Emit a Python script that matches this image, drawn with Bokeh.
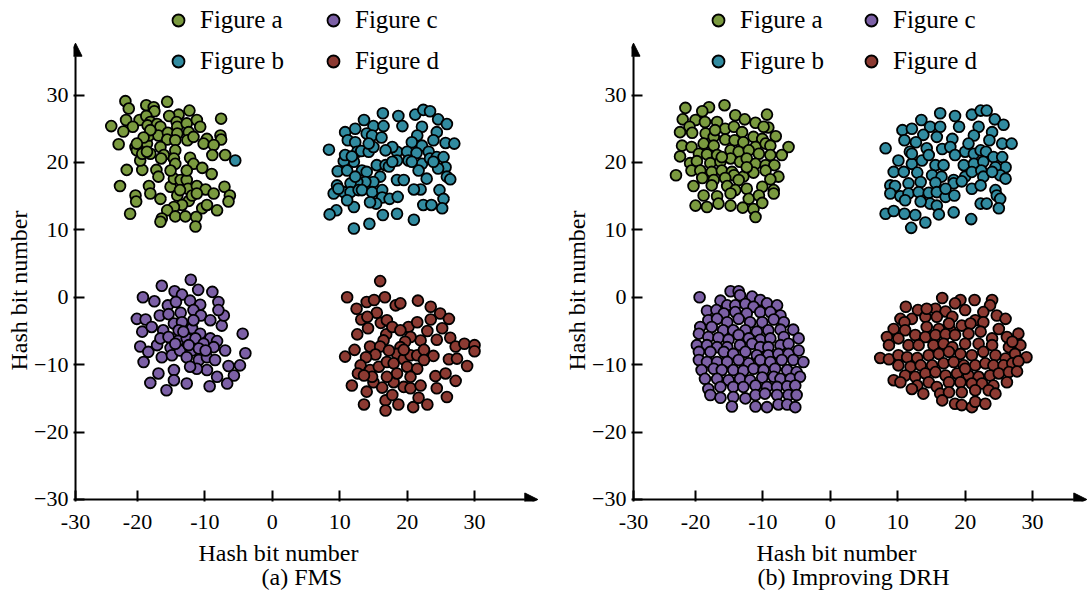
from bokeh.plotting import figure
from bokeh.models import (Legend, LegendItem, Arrow, NormalHead, FixedTicker,
                          CustomJSTickFormatter, Title)
from bokeh.layouts import row
from bokeh.embed import file_html
from bokeh.resources import INLINE

SERIES = ["Figure a", "Figure b", "Figure c", "Figure d"]
COLORS = ["#7a9a3f", "#318ba0", "#7c60a6", "#8c3a32"]
CAPTIONS = ["(a) FMS", "(b) Improving DRH"]
X_TICKS = [-30, -20, -10, 0, 10, 20, 30]
Y_TICKS = [-30, -20, -10, 0, 10, 20, 30]
AXIS_TITLE = "Hash bit number"

# ---------------- (a) FMS ----------------
fms_a = [(-21.8,29.1),(-21.3,28.0),(-18.7,28.5),(-17.6,28.2),(-17.5,27.6),(-15.6,29.0),(-12.3,27.7),(-13.9,27.1),(-15.3,26.9),(-7.6,26.5),
         (-23.9,25.4),(-21.7,26.3),(-19.7,26.3),(-18.7,26.9),(-18.1,26.0),(-18.5,25.5),(-17.1,25.7),(-16.6,25.3),(-20.7,25.3),(-22.1,24.6),
         (-14.2,26.0),(-14.1,25.3),(-12.7,25.8),(-11.2,26.3),(-10.7,25.3),(-12.4,24.5),(-9.7,23.5),(-7.7,24.0),(-7.6,23.4),(-22.8,22.7),
         (-20.3,22.3),(-20.1,21.8),(-18.6,22.8),(-18.3,24.0),(-16.9,24.0),(-18.1,24.8),(-15.5,24.4),(-15.6,23.4),(-14.1,24.3),(-14.4,23.3),
         (-12.6,23.3),(-11.7,23.8),(-10.2,22.8),(-8.7,22.6),(-8.9,21.1),(-7.0,21.1),(-21.6,18.9),(-19.3,18.9),(-19.6,20.3),(-19.3,21.3),
         (-18.1,21.3),(-16.6,22.3),(-16.1,21.1),(-16.5,20.6),(-14.4,21.8),(-14.6,20.6),(-14.4,19.8),(-12.2,20.7),(-11.7,19.8),(-10.4,19.2),
         (-9.0,18.3),(-17.2,18.9),(-16.9,17.9),(-22.6,16.5),(-20.3,15.1),(-20.2,14.2),(-21.1,12.4),(-18.3,16.5),(-18.1,15.4),(-16.6,14.6),
         (-15.1,16.4),(-14.6,17.6),(-13.6,17.4),(-12.7,17.4),(-12.5,16.1),(-11.2,16.5),(-9.9,16.0),(-8.7,15.4),(-7.1,16.4),(-6.3,15.1),
         (-6.5,14.2),(-8.2,12.9),(-10.4,13.2),(-9.7,13.7),(-14.1,15.1),(-12.4,14.3),(-13.4,13.7),(-14.6,13.4),(-15.6,12.9),(-16.4,11.7),
         (-16.6,11.2),(-14.4,12.0),(-12.9,12.0),(-11.3,11.9),(-11.4,10.5),(-15.1,18.8),(-12.7,18.8),(-13.7,15.9),(-11.9,15.1),(-11.2,15.4),
         (-19.1,23.7),(-20.1,22.8),(-18.6,21.6)]

fms_b = [(8.4,21.9),(9.5,12.9),(8.5,12.3),(12.1,10.2),(14.4,10.9),(16.4,12.2),(18.5,12.4),(21.0,11.5),(10.8,24.5),(12.3,25.0),
         (13.6,26.3),(15.0,25.4),(16.4,27.3),(16.5,25.4),(14.0,24.3),(14.8,24.0),(16.2,23.7),(18.7,26.9),(19.3,25.4),(21.2,27.1),
         (22.4,27.8),(23.4,27.6),(24.6,26.4),(25.9,25.7),(24.4,24.5),(23.9,23.3),(22.2,25.3),(21.5,24.0),(20.7,23.0),(22.2,22.5),
         (25.7,22.9),(27.0,22.8),(11.2,23.3),(12.3,23.0),(12.6,21.6),(13.2,21.7),(14.3,21.6),(12.1,20.1),(10.6,20.2),(9.7,18.7),
         (11.1,18.8),(13.3,18.8),(14.0,18.6),(15.5,19.6),(16.8,19.6),(17.3,19.4),(18.5,21.6),(17.8,22.3),(16.8,21.8),(20.0,21.6),
         (20.2,20.3),(21.4,21.4),(22.2,19.8),(23.2,21.6),(23.4,20.6),(24.4,20.8),(25.4,20.8),(25.7,19.3),(24.6,19.1),(25.9,17.9),
         (26.4,17.5),(22.9,17.6),(21.7,18.8),(18.5,17.4),(19.5,17.4),(16.0,17.9),(15.0,17.1),(13.8,17.1),(12.6,17.1),(11.6,16.9),
         (9.6,16.6),(9.1,15.4),(10.6,15.6),(11.6,15.6),(12.8,15.9),(13.3,15.9),(14.8,15.6),(16.3,15.9),(16.3,14.8),(17.4,14.6),
         (18.6,14.9),(15.4,13.9),(14.5,14.1),(12.1,13.4),(11.1,14.4),(9.8,16.1),(10.8,21.1),(11.8,20.9),(22.0,16.0),(21.0,16.0),
         (24.8,15.9),(25.4,14.6),(25.2,13.2),(22.4,13.7),(23.6,13.7),(15.0,22.3),(14.3,22.8),(12.3,17.9),(23.9,20.1),(20.7,20.1),
         (18.5,20.3),(17.8,20.1),(-5.5,20.3)]

fms_c = [(-12.1,2.6),(-16.4,1.7),(-11.0,1.1),(-8.9,0.8),(-14.5,0.9),(-13.4,0.4),(-19.2,0.0),(-17.5,-0.6),(-15.5,-1.2),(-14.3,-0.7),
         (-12.2,-0.5),(-10.7,-1.1),(-8.0,-0.7),(-20.1,-3.2),(-18.8,-3.3),(-16.7,-2.7),(-15.4,-2.5),(-13.6,-2.3),(-11.7,-1.9),(-10.6,-2.7),
         (-9.2,-3.4),(-7.5,-4.2),(-7.2,-2.7),(-19.3,-5.1),(-17.9,-4.4),(-16.2,-4.9),(-14.6,-3.9),(-13.4,-3.7),(-11.9,-4.6),(-10.7,-5.4),
         (-9.2,-6.1),(-8.2,-6.5),(-7.0,-7.9),(-4.4,-5.4),(-4.0,-8.3),(-19.6,-7.3),(-18.4,-8.1),(-17.1,-7.1),(-16.6,-6.1),(-15.1,-7.5),
         (-13.9,-6.4),(-12.7,-6.1),(-11.4,-6.1),(-10.2,-6.9),(-8.7,-7.4),(-19.1,-9.6),(-16.4,-8.9),(-14.9,-8.6),(-13.7,-7.9),(-11.9,-7.9),
         (-12.7,-8.9),(-10.9,-9.3),(-9.7,-8.9),(-8.5,-9.3),(-6.5,-10.2),(-4.8,-10.1),(-5.7,-11.6),(-6.7,-12.8),(-8.2,-11.8),(-9.7,-10.8),
         (-11.2,-10.6),(-12.2,-10.3),(-14.6,-10.8),(-16.9,-11.3),(-18.1,-12.7),(-15.7,-13.8),(-14.6,-12.3),(-12.7,-12.8),(-9.3,-13.2),(-13.9,-4.9),
         (-15.4,-5.9),(-11.7,-3.4),(-8.0,-1.9),(-13.2,-5.1),(-12.4,-7.1),(-10.9,-7.6),(-14.4,-6.9),(-9.9,-7.9)]

fms_d = [(16.0,2.4),(11.1,0.0),(14.0,-0.7),(15.1,-0.4),(16.7,0.0),(18.3,-1.2),(19.0,-0.9),(21.6,-0.5),(12.5,-1.7),(15.5,-2.3),
         (23.5,-1.4),(24.9,-2.4),(26.2,-3.2),(13.2,-3.3),(14.1,-2.9),(16.1,-3.8),(17.0,-3.4),(14.2,-4.6),(12.6,-5.5),(16.9,-5.5),
         (16.5,-6.4),(17.8,-4.4),(20.2,-4.4),(21.5,-3.7),(23.0,-5.0),(23.5,-3.3),(25.2,-4.6),(26.4,-6.0),(24.4,-6.3),(22.0,-6.4),
         (20.5,-5.9),(19.7,-6.6),(19.0,-7.4),(18.5,-8.4),(27.2,-7.3),(28.5,-6.9),(30.0,-7.1),(30.0,-8.0),(12.2,-7.8),(10.8,-8.8),
         (14.5,-7.3),(16.0,-7.3),(15.3,-8.5),(13.9,-8.9),(13.1,-10.1),(12.7,-11.3),(14.5,-10.8),(15.8,-10.3),(17.0,-9.6),(18.0,-9.8),
         (19.5,-9.2),(20.5,-8.6),(21.5,-8.6),(22.5,-7.8),(23.9,-8.7),(26.2,-9.2),(27.4,-9.1),(28.9,-10.2),(24.2,-11.7),(25.7,-11.3),
         (27.2,-12.4),(11.8,-13.1),(14.0,-14.0),(15.0,-12.6),(16.3,-13.4),(18.0,-12.6),(19.5,-13.3),(20.5,-13.5),(22.0,-13.1),(24.4,-13.5),
         (25.9,-14.8),(13.6,-15.9),(16.8,-15.3),(16.8,-16.8),(18.7,-15.9),(20.9,-16.3),(21.7,-14.9),(23.0,-15.9),(17.8,-14.5),(20.0,-10.3),
         (21.5,-10.6),(18.5,-11.3),(17.0,-11.8),(14.8,-11.8),(13.6,-11.6),(19.0,-4.9),(19.5,-7.8),(17.3,-7.9),(20.5,-11.8),(22.5,-9.3)]

# ---------------- (b) Improving DRH ----------------
drh_a = [(-21.5,28.1),(-18.0,28.2),(-15.7,28.5),(-19.0,27.6),(-9.4,27.1),(-21.9,26.4),(-20.0,26.3),(-18.6,26.0),(-16.8,26.0),(-14.1,27.0),
         (-12.7,26.4),(-11.1,25.9),(-9.2,25.2),(-20.9,25.3),(-22.3,24.5),(-20.5,24.4),(-18.5,24.3),(-17.3,23.8),(-15.6,25.0),(-14.3,25.3),
         (-13.1,24.5),(-11.4,23.8),(-10.1,23.5),(-8.1,23.9),(-22.0,22.5),(-20.6,22.3),(-18.8,22.8),(-17.3,22.5),(-15.6,23.4),(-14.2,23.3),
         (-12.9,23.0),(-11.1,22.3),(-9.6,22.8),(-8.9,22.5),(-6.2,22.3),(-22.3,20.9),(-19.5,21.3),(-18.3,21.2),(-16.8,21.1),(-14.8,21.8),
         (-13.6,21.6),(-12.1,21.8),(-10.6,21.3),(-8.9,21.1),(-7.2,21.1),(-20.8,19.9),(-19.8,20.2),(-17.8,19.9),(-16.3,20.1),(-14.8,20.6),
         (-13.4,20.1),(-12.4,20.6),(-11.1,19.8),(-9.6,19.6),(-8.3,19.6),(-22.9,18.1),(-20.6,18.8),(-19.3,18.8),(-17.6,18.6),(-16.1,18.8),
         (-14.6,18.6),(-14.3,18.1),(-12.9,17.9),(-11.4,18.5),(-9.6,18.8),(-7.7,17.9),(-8.9,17.5),(-19.0,17.7),(-17.3,17.4),(-15.6,17.7),
         (-13.6,17.4),(-20.3,16.5),(-17.6,16.6),(-15.3,16.5),(-14.1,15.9),(-12.4,16.1),(-10.1,16.4),(-8.4,15.9),(-18.8,15.1),(-16.8,15.0),
         (-14.8,15.4),(-12.1,14.6),(-10.6,15.1),(-20.0,13.6),(-18.3,13.4),(-16.6,13.9),(-14.8,13.6),(-13.0,13.3),(-11.4,13.1),(-10.1,14.0),
         (-11.1,11.9),(-9.9,25.3),(-16.1,20.8),(-12.4,19.3),(-17.1,24.8),(-8.4,15.4)]

drh_b = [(8.2,22.1),(16.3,27.3),(18.5,26.9),(21.0,27.1),(22.3,27.7),(23.2,27.7),(24.4,26.4),(25.7,25.6),(13.5,26.3),(10.7,24.8),
         (12.1,25.0),(14.8,25.3),(16.3,25.3),(19.1,25.3),(13.8,24.1),(15.8,23.8),(18.1,23.5),(22.0,25.3),(21.3,24.0),(24.0,24.5),
         (23.6,23.3),(11.0,23.3),(12.7,23.0),(14.3,22.1),(16.6,22.0),(17.8,22.3),(20.0,21.6),(21.3,21.3),(22.3,21.8),(23.1,21.6),
         (25.5,22.8),(26.9,22.8),(11.8,21.6),(10.1,20.3),(12.1,19.8),(13.6,20.3),(15.6,19.6),(16.8,19.6),(18.5,21.1),(19.8,19.6),
         (21.3,19.8),(22.7,20.1),(24.2,20.8),(25.5,20.8),(26.0,19.3),(24.5,19.3),(9.4,18.6),(10.9,18.6),(12.9,18.5),(15.1,18.1),
         (16.5,17.9),(18.3,17.4),(20.0,17.9),(21.0,18.6),(22.4,18.8),(22.7,17.9),(25.2,18.1),(26.0,17.6),(8.9,16.6),(9.6,16.5),
         (11.6,16.9),(13.4,17.1),(15.6,17.0),(18.3,16.9),(19.5,17.2),(21.0,16.1),(22.3,16.6),(24.5,15.9),(8.9,15.4),(10.4,15.0),
         (11.6,15.4),(13.1,15.6),(14.6,15.5),(15.8,15.6),(17.1,14.9),(18.4,15.1),(24.7,15.1),(25.2,14.6),(11.1,14.4),(14.8,13.9),
         (15.8,13.6),(22.3,13.9),(23.2,13.9),(25.0,13.2),(8.2,12.4),(9.4,12.8),(11.0,12.4),(12.6,12.2),(14.1,11.1),(16.1,12.3),
         (18.3,12.6),(20.9,11.6),(12.0,10.3),(12.1,21.3),(14.6,21.1),(20.5,22.8),(17.1,16.1),(24.0,18.6),(13.4,14.2)]

drh_c = [(-19.4,0.0),(-14.8,0.9),(-13.6,0.9),(-13.4,0.3),(-11.6,0.1),(-10.4,-0.4),(-9.4,-0.9),(-7.9,-1.2),(-16.3,-0.5),(-15.3,-1.2),
         (-14.1,-1.2),(-12.6,-1.0),(-11.4,-1.4),(-18.3,-2.0),(-16.9,-1.9),(-15.8,-2.4),(-14.1,-2.2),(-12.4,-2.4),(-10.4,-2.2),(-8.9,-2.2),
         (-7.4,-2.7),(-18.1,-3.4),(-16.8,-3.2),(-15.3,-3.7),(-13.6,-3.2),(-11.9,-3.7),(-10.1,-3.7),(-8.4,-3.3),(-6.9,-3.7),(-19.3,-4.4),
         (-17.6,-4.4),(-15.9,-4.9),(-14.4,-4.9),(-12.6,-4.9),(-10.9,-5.1),(-9.2,-4.9),(-7.4,-4.8),(-5.5,-4.8),(-19.5,-5.4),(-18.1,-5.9),
         (-16.6,-6.0),(-15.1,-6.3),(-13.6,-5.6),(-12.1,-6.1),(-10.4,-6.3),(-8.9,-6.1),(-6.9,-5.9),(-4.7,-6.1),(-19.8,-7.1),(-18.3,-7.1),
         (-16.8,-7.4),(-15.3,-7.4),(-13.4,-7.1),(-11.6,-6.9),(-10.4,-7.4),(-9.2,-7.4),(-7.4,-7.1),(-6.2,-6.9),(-19.5,-8.1),(-17.8,-8.1),
         (-15.8,-8.1),(-14.4,-8.4),(-12.6,-8.1),(-10.9,-8.6),(-9.2,-8.6),(-7.7,-8.4),(-6.2,-8.4),(-4.7,-7.9),(-19.5,-9.3),(-18.3,-9.6),
         (-16.8,-9.6),(-15.3,-9.6),(-13.6,-9.3),(-12.1,-9.8),(-10.4,-9.3),(-8.9,-9.6),(-7.2,-9.3),(-5.5,-9.3),(-4.0,-9.6),(-19.1,-10.8),
         (-17.3,-10.6),(-16.1,-10.8),(-14.4,-10.8),(-12.9,-10.9),(-11.4,-10.6),(-9.9,-10.8),(-8.2,-10.6),(-6.4,-10.8),(-5.0,-11.1),(-18.6,-12.1),
         (-16.8,-12.1),(-15.1,-12.3),(-13.4,-12.1),(-11.9,-12.3),(-10.1,-11.9),(-8.4,-11.8),(-7.4,-12.1),(-5.9,-12.1),(-4.5,-11.8),(-18.1,-13.6),
         (-16.3,-13.3),(-14.4,-13.3),(-12.9,-13.3),(-11.1,-13.1),(-9.4,-13.3),(-7.9,-13.3),(-6.4,-13.2),(-5.2,-13.1),(-17.8,-14.5),(-16.3,-14.9),
         (-14.4,-14.8),(-12.6,-15.0),(-11.1,-14.5),(-9.7,-14.3),(-7.9,-14.5),(-6.2,-14.5),(-5.0,-14.5),(-14.6,-16.2),(-11.1,-16.2),(-9.4,-16.3),
         (-7.7,-15.9),(-6.4,-15.9),(-5.2,-16.3)]

drh_d = [(16.6,-0.1),(19.3,-0.4),(18.5,-0.9),(21.4,-0.4),(24.0,-0.4),(23.7,-1.2),(11.2,-1.4),(13.0,-1.9),(15.6,-1.7),(17.1,-2.1),
         (20.0,-1.9),(22.7,-2.2),(24.7,-2.7),(26.0,-3.2),(10.4,-3.2),(12.1,-3.2),(14.1,-2.9),(15.8,-2.9),(18.1,-2.9),(21.5,-3.4),
         (11.0,-3.7),(9.4,-4.7),(11.1,-4.9),(12.6,-5.6),(14.3,-4.4),(16.1,-4.7),(17.8,-4.9),(19.5,-4.2),(20.8,-3.9),(22.7,-3.7),
         (25.0,-4.7),(27.9,-5.4),(8.4,-5.9),(10.1,-6.1),(14.1,-5.9),(15.6,-5.6),(17.1,-5.5),(18.5,-5.6),(20.5,-5.4),(22.3,-5.1),
         (24.0,-6.1),(26.2,-5.9),(8.7,-7.1),(11.6,-7.1),(13.1,-7.1),(15.3,-7.1),(16.8,-6.9),(18.1,-7.4),(20.0,-6.9),(22.0,-6.9),
         (24.0,-7.1),(26.5,-7.4),(28.2,-7.1),(7.4,-9.0),(8.7,-9.2),(10.1,-8.6),(11.4,-8.9),(12.9,-9.0),(14.6,-8.6),(16.1,-8.4),
         (17.6,-8.1),(19.3,-8.4),(21.0,-8.6),(22.7,-8.1),(24.5,-8.6),(26.0,-9.1),(27.4,-8.4),(29.1,-8.9),(10.1,-10.1),(11.9,-10.3),
         (13.4,-10.1),(15.1,-10.1),(16.8,-9.8),(18.3,-9.6),(19.8,-10.1),(21.5,-10.1),(23.0,-9.8),(24.2,-10.1),(25.7,-10.1),(27.0,-9.8),
         (27.9,-9.5),(9.4,-12.3),(11.1,-11.6),(12.6,-11.8),(14.1,-11.3),(15.6,-11.1),(17.1,-11.6),(18.8,-11.3),(20.5,-11.6),(22.0,-11.8),
         (23.7,-11.6),(25.0,-11.3),(26.5,-11.1),(27.7,-11.0),(10.4,-12.6),(12.9,-13.1),(14.6,-12.6),(15.8,-13.3),(17.6,-12.6),(19.3,-12.6),
         (21.0,-12.8),(22.5,-12.8),(24.2,-13.1),(26.2,-12.6),(13.8,-14.3),(16.3,-14.3),(17.6,-14.1),(19.5,-14.1),(21.5,-13.8),(23.5,-13.8),
         (24.5,-14.3),(18.5,-15.8),(19.5,-16.0),(21.0,-16.3),(21.5,-15.5),(23.0,-15.8),(16.6,-15.3),(12.1,-13.6),(20.0,-10.6),(17.6,-3.9),
         (14.3,-1.7),(27.0,-6.6)]

X_START = -29.2          # where the drawn y axis sits
Y_START = -30            # where the drawn x axis sits
Y_ARROW = 37.7           # tip of the y-axis arrow
PAD = 0.3                # small margin so axis lines/arrows are not clipped
SCALE = 6.74             # pixels per data unit
SERIF = "Liberation Serif"

PANELS = [
    {"caption": CAPTIONS[0], "clusters": [fms_a, fms_b, fms_c, fms_d],
     "frame_width": 465, "border_right": 20,
     "legend_x": [90, 245], "title_off": 125, "caption_off": 188},
    {"caption": CAPTIONS[1], "clusters": [drh_a, drh_b, drh_c, drh_d],
     "frame_width": 456, "border_right": 2,
     "legend_x": [72, 225], "title_off": 125, "caption_off": 126},
]
FRAME_H = 499


def make_panel(cfg):
    x0 = X_START - PAD
    x1 = x0 + cfg["frame_width"] / SCALE
    y0 = Y_START - PAD
    y1 = y0 + FRAME_H / SCALE
    p = figure(frame_width=cfg["frame_width"], frame_height=FRAME_H,
               x_range=(x0, x1), y_range=(y0, y1),
               output_backend="svg", toolbar_location=None, title=None,
               min_border_left=73, min_border_right=cfg["border_right"],
               min_border_top=2, min_border_bottom=97)
    p.outline_line_color = None
    p.xgrid.visible = False
    p.ygrid.visible = False
    p.background_fill_color = "white"
    p.border_fill_color = "white"

    rends = []
    for pts, col in zip(cfg["clusters"], COLORS):
        xs = [a for a, b in pts]
        ys = [b for a, b in pts]
        r = p.scatter(xs, ys, marker="circle", size=10.8, fill_color=col,
                      line_color="black", line_width=1.8)
        rends.append(r)

    xt = [X_START if t == -30 else t for t in X_TICKS]
    p.xaxis.ticker = FixedTicker(ticks=xt)
    p.xaxis.formatter = CustomJSTickFormatter(
        code="return tick < -25 ? '-30' : tick.toFixed(0);")
    p.yaxis.ticker = FixedTicker(ticks=Y_TICKS)
    for ax in (p.xaxis[0], p.yaxis[0]):
        ax.major_label_text_font = SERIF
        ax.major_label_text_font_size = "22px"
        ax.major_label_text_color = "black"
        ax.axis_line_color = None
        ax.major_tick_in = 11
        ax.major_tick_out = 0
        ax.major_tick_line_width = 2
        ax.major_tick_line_color = "black"
        ax.minor_tick_line_color = None
    p.xaxis.major_label_standoff = 13
    p.yaxis.major_label_standoff = 5

    # axis lines with arrow heads
    p.add_layout(Arrow(end=NormalHead(size=13, fill_color="black", line_color="black", line_width=1),
                       x_start=X_START, y_start=Y_START, x_end=x1 - 0.1, y_end=Y_START,
                       line_color="black", line_width=2))
    p.add_layout(Arrow(end=NormalHead(size=13, fill_color="black", line_color="black", line_width=1),
                       x_start=X_START, y_start=Y_START, x_end=X_START, y_end=Y_ARROW,
                       line_color="black", line_width=2))

    # legends (two columns)
    for k in range(2):
        items = [LegendItem(label=SERIES[2 * k + j], renderers=[rends[2 * k + j]]) for j in range(2)]
        lg = Legend(items=items, location=(cfg["legend_x"][k], 425),
                    orientation="vertical", border_line_color=None,
                    background_fill_alpha=0, padding=0, margin=0, spacing=11,
                    glyph_width=30, glyph_height=30, label_height=30,
                    label_standoff=7, label_text_font=SERIF,
                    label_text_font_size="25px", label_text_color="black")
        p.add_layout(lg, "center")

    # axis titles and caption
    p.add_layout(Title(text=AXIS_TITLE, align="left", offset=131, text_font=SERIF,
                       text_font_size="24px", text_font_style="normal",
                       text_color="black", standoff=0), "left")
    p.add_layout(Title(text=AXIS_TITLE, align="left", offset=cfg["title_off"], text_font=SERIF,
                       text_font_size="24px", text_font_style="normal",
                       text_color="black", standoff=12), "below")
    p.add_layout(Title(text=cfg["caption"], align="left", offset=cfg["caption_off"], text_font=SERIF,
                       text_font_size="24px", text_font_style="normal",
                       text_color="black", standoff=-19), "below")
    return p


figs = [make_panel(c) for c in PANELS]
layout = row(*figs)
open("out.html", "w").write(file_html(layout, INLINE))
